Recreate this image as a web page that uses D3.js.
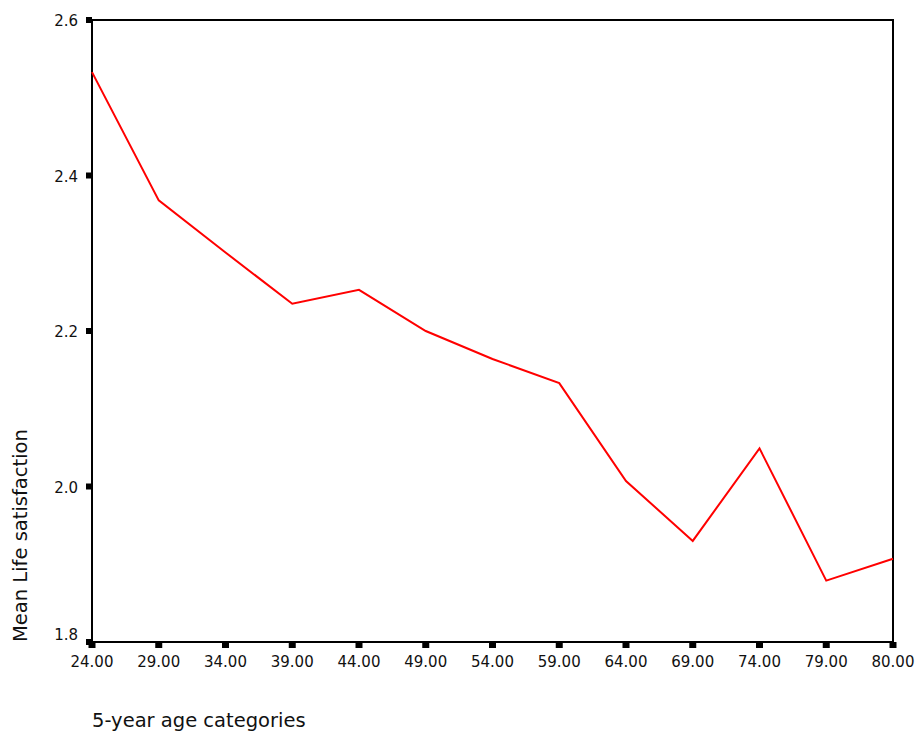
<!DOCTYPE html>
<html><head><meta charset="utf-8">
<script src="https://cdn.jsdelivr.net/npm/d3@7"></script>
<style>body{margin:0;background:#fff}svg{display:block}text{font-family:"DejaVu Sans",Verdana,sans-serif;fill:#111}</style>
</head><body><svg id="c" width="916" height="731"></svg>
<script>
const categories = ["24.00","29.00","34.00","39.00","44.00","49.00","54.00","59.00","64.00","69.00","74.00","79.00","80.00"];
const meanValues = [2.533, 2.368, 2.301, 2.235, 2.253, 2.200, 2.164, 2.133, 2.007, 1.930, 2.049, 1.879, 1.907];
const yTicks = [1.8, 2.0, 2.2, 2.4, 2.6];
const xTitle = "5-year age categories";
const yTitle = "Mean Life satisfaction";

const svg = d3.select("#c");
const L = 92, R = 893, T = 20, B = 642;
const x = d3.scalePoint().domain(categories).range([L, R]);
const y = d3.scaleLinear().domain([1.8, 2.6]).range([B, T]);

// frame
svg.append("rect").attr("x", L).attr("y", T).attr("width", R - L).attr("height", B - T)
  .attr("fill", "none").attr("stroke", "#000").attr("stroke-width", 2);

// y ticks
const yg = svg.append("g");
yg.selectAll("rect").data(yTicks).join("rect")
  .attr("x", L - 6).attr("y", d => y(d) - 3).attr("width", 6).attr("height", 6).attr("fill", "#000");
yg.selectAll("text").data(yTicks).join("text")
  .attr("x", 78).attr("y", d => y(d) + (d === 1.8 ? -7 : 1)).attr("dy", "0.35em")
  .attr("text-anchor", "end").attr("font-size", 15).text(d => d.toFixed(1));

// x ticks
const xg = svg.append("g");
xg.selectAll("rect").data(categories).join("rect")
  .attr("x", d => x(d) - 3.5).attr("y", B).attr("width", 7).attr("height", 6).attr("fill", "#000");
xg.selectAll("text").data(categories).join("text")
  .attr("x", d => x(d)).attr("y", 667).attr("text-anchor", "middle").attr("font-size", 15).text(d => d);

// line
const line = d3.line().x((d, i) => x(categories[i])).y(d => y(d));
svg.append("path").datum(meanValues).attr("d", line)
  .attr("fill", "none").attr("stroke", "#ff0000").attr("stroke-width", 2);

// titles
svg.append("text").attr("x", 92).attr("y", 727).attr("font-size", 19.5).text(xTitle);
svg.append("text").attr("transform", "translate(27,642) rotate(-90)").attr("font-size", 19.5).text(yTitle);
</script></body></html>
